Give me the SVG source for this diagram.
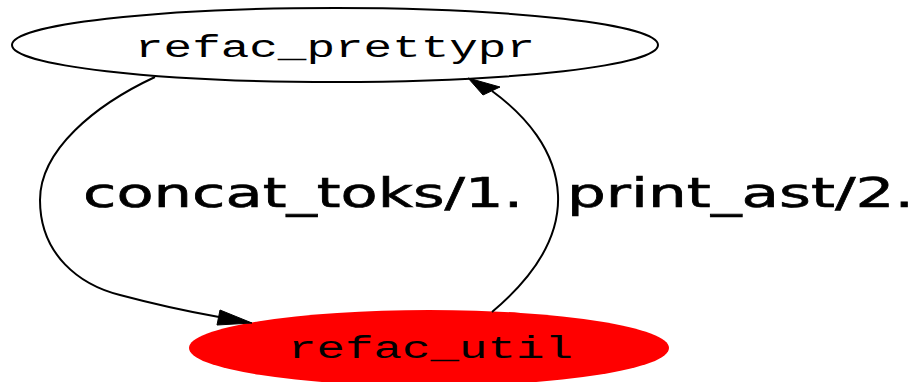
<svg xmlns="http://www.w3.org/2000/svg" width="917" height="382" viewBox="0 0 917 382">
<style>
.node-label{font-family:"Liberation Mono","DejaVu Sans Mono",monospace;font-size:31px;fill:#000}
.edge-label{font-family:"DejaVu Sans","Liberation Sans",sans-serif;font-size:41px;fill:#000;stroke:#000;stroke-width:0.6}
.edge{fill:none;stroke:#000;stroke-width:2}
</style>
<rect width="917" height="382" fill="#fff"/>
<g id="node-refac_prettypr">
<ellipse cx="335" cy="45" rx="323" ry="37" fill="#fff" stroke="#000" stroke-width="2"/>
<text class="node-label" x="135" y="57" textLength="400" lengthAdjust="spacingAndGlyphs">refac_prettypr</text>
</g>
<g id="node-refac_util">
<ellipse cx="429" cy="348" rx="240" ry="38" fill="#f00"/>
<text class="node-label" x="288" y="358" textLength="285" lengthAdjust="spacingAndGlyphs">refac_util</text>
</g>
<g id="connectors">
<path class="edge" d="M155,77 C95,105 40,150 40,200 C40,255 80,285 120,295 C150,303 185,311 219,317"/>
<polygon points="252,323 217,325 220,310" fill="#000" stroke="#000"/>
<path class="edge" d="M492,312 C530,280 560,240 558,195 C556,150 525,115 492,91"/>
<polygon points="468,78 500,87 483,95" fill="#000" stroke="#000"/>
<text class="edge-label" x="83" y="207" textLength="440" lengthAdjust="spacingAndGlyphs">concat_toks/1.</text>
<text class="edge-label" x="567" y="207" textLength="347" lengthAdjust="spacingAndGlyphs">print_ast/2.</text>
</g>
</svg>
